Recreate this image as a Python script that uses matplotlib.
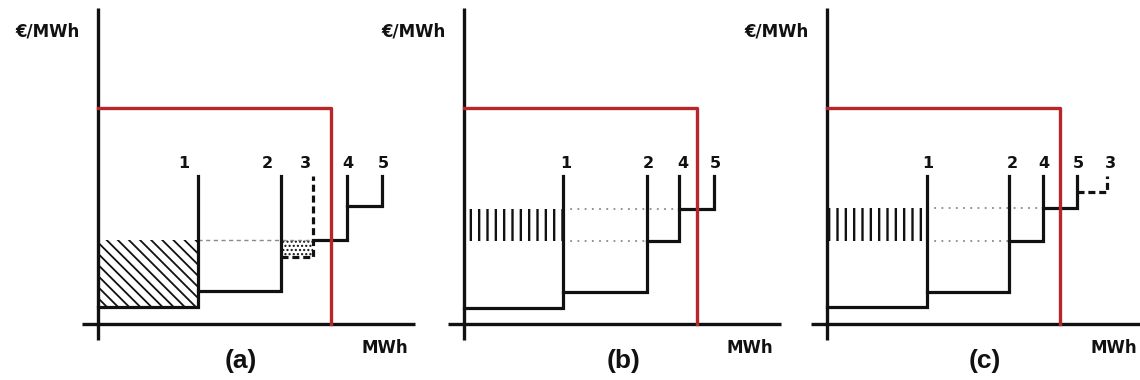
import numpy as np
import matplotlib
matplotlib.use("Agg")
import matplotlib.pyplot as plt
from matplotlib.patches import Rectangle

# ---------------- data ----------------
# bids: id, quantity block (MWh units) and price (EUR/MWh units)
bid_ids_a = ['1', '2', '3', '4', '5']
bid_qty_a = [100, 83, 32, 34, 35]
bid_price_a = [17, 33, 67, 84, 118]

bid_ids_b = ['1', '2', '4', '5']
bid_qty_b = [99, 84, 32, 35]
bid_price_b = [16, 32, 83, 115]

bid_ids_c = ['1', '2', '4', '5', '3']
bid_qty_c = [100, 82, 34, 34, 30]
bid_price_c = [17, 32, 83, 116, 132]

demand_qty = 233
demand_price = 216
bid_top = 148          # top of every bid's vertical line
panel_names = ['(a)', '(b)', '(c)']

# ---------------- layout ----------------
W, H = 1140, 380
fig = plt.figure(figsize=(W / 100, H / 100), dpi=100)
origins = [(98, 324), (464, 324), (827, 324)]   # pixel position of each origin
pad = 30
size = 350
label_shift = {'(a)': [-14, -14, -8, 1, 1], '(b)': [3, 1, 4, 1], '(c)': [1, 3, 1, 1, 3]}
panel_label_x = {'(a)': 143, '(b)': 160, '(c)': 158}

BLACK = '#111111'
RED = '#b8262a'
GREY = '#8a8a8a'
plt.rcParams['hatch.color'] = BLACK

panels = [
    (bid_ids_a, bid_qty_a, bid_price_a),
    (bid_ids_b, bid_qty_b, bid_price_b),
    (bid_ids_c, bid_qty_c, bid_price_c),
]

for (ox, oy), name, (ids, qty, price) in zip(origins, panel_names, panels):
    ax = fig.add_axes([(ox - pad) / W, (H - oy - pad) / H, size / W, size / H])
    ax.set_xlim(-pad, size - pad)
    ax.set_ylim(-pad, size - pad)
    ax.axis('off')

    cum = np.concatenate([[0], np.cumsum(qty)])
    # clearing price: bid whose block contains the demand quantity
    k = int(np.searchsorted(cum, demand_qty)) - 1
    clearing = price[k]

    # axes lines
    ax.plot([-16, 317], [0, 0], color=BLACK, lw=2.4, clip_on=False, solid_capstyle='butt', zorder=3)
    ax.plot([0, 0], [-16, 316], color=BLACK, lw=2.4, clip_on=False, solid_capstyle='butt', zorder=3)

    if name == '(a)':
        # welfare area of bid 1 (diagonal hatch)
        plt.rcParams['hatch.linewidth'] = 1.3
        ax.add_patch(Rectangle((0, price[0]), cum[1], clearing - price[0], facecolor='none',
                               edgecolor=BLACK, lw=0, hatch='\\\\\\', zorder=1))
        # dotted block for bid 3
        i3 = ids.index('3')
        plt.rcParams['hatch.linewidth'] = 1.0
        ax.add_patch(Rectangle((cum[i3], price[i3]), qty[i3], clearing - price[i3], facecolor='none',
                               edgecolor=BLACK, lw=0, hatch='....', zorder=1))
        ax.plot([cum[1], cum[i3 + 1]], [clearing, clearing], color=GREY, lw=1.0,
                ls=(0, (3, 2.5)), zorder=2)
    else:
        i4 = ids.index('4')
        lower = price[i4]
        plt.rcParams['hatch.linewidth'] = 1.7
        ax.add_patch(Rectangle((0, lower), cum[1], clearing - lower, facecolor='none',
                               edgecolor=BLACK, lw=0, hatch='||', zorder=1))
        ax.plot([cum[1], cum[k]], [clearing, clearing], color=GREY, lw=1.3,
                ls=(0, (1, 3)), zorder=2)
        ax.plot([cum[1], cum[i4]], [lower, lower], color=GREY, lw=1.3,
                ls=(0, (1, 3)), zorder=2)

    # bid steps
    for i, b in enumerate(ids):
        ls = (0, (2.2, 1.2)) if b == '3' else '-'
        ax.plot([cum[i], cum[i + 1], cum[i + 1]], [price[i], price[i], bid_top],
                color=BLACK, lw=2.3, ls=ls, solid_joinstyle='miter', zorder=4)
        ax.text(cum[i + 1] + label_shift[name][i], bid_top + 13, b, ha='center', va='center',
                fontsize=11.5, fontweight='bold', color=BLACK, family='DejaVu Sans')

    # demand curve
    ax.plot([0, demand_qty, demand_qty], [demand_price, demand_price, 0], color=RED, lw=2.4,
            solid_joinstyle='round', zorder=5)

    # texts
    ax.text(-18, 292, '€/MWh', ha='right', va='center', fontsize=12, fontweight='bold', color=BLACK)
    ax.text(263, -24, 'MWh', ha='left', va='center', fontsize=12, fontweight='bold', color=BLACK)
    ax.text(panel_label_x[name], -37, name, ha='center', va='center', fontsize=19,
            fontweight='bold', color=BLACK, family='Liberation Sans')

fig.savefig('out.png', dpi=100)
